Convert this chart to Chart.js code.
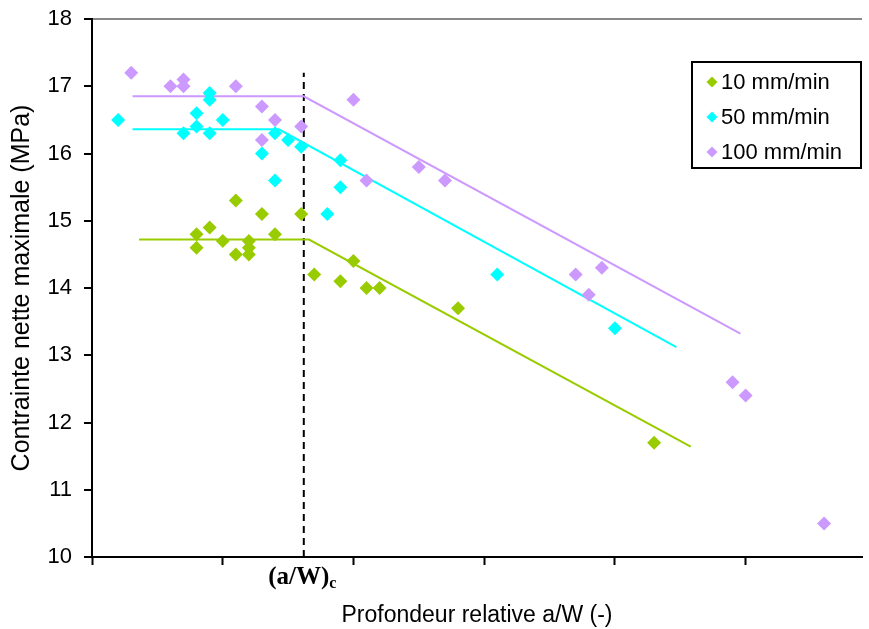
<!DOCTYPE html>
<html>
<head>
<meta charset="utf-8">
<script src="https://cdn.jsdelivr.net/npm/chart.js@4/dist/chart.umd.min.js"></script>
<style>
  html, body { margin: 0; padding: 0; background: #fff; overflow: hidden; }
  #cadre { width: 869px; height: 629px; position: relative; }
  canvas { display: block; }
</style>
</head>
<body>
<div id="cadre"><canvas id="graphe"></canvas></div>
<script>
// series names and colours
const vitesses = ['10 mm/min', '50 mm/min', '100 mm/min'];
const couleurs = ['#99cc00', '#00ffff', '#cc99ff'];

// mesures (a/W, contrainte MPa)
const x10 = [0.08, 0.08, 0.09, 0.10, 0.11, 0.11, 0.12, 0.12, 0.12, 0.13, 0.14, 0.16, 0.17, 0.19, 0.20, 0.21, 0.22, 0.28, 0.43];
const y10 = [14.8, 14.6, 14.9, 14.7, 15.3, 14.5, 14.7, 14.6, 14.5, 15.1, 14.8, 15.1, 14.2, 14.1, 14.4, 14.0, 14.0, 13.7, 11.7];

const x50 = [0.02, 0.07, 0.08, 0.08, 0.09, 0.09, 0.09, 0.10, 0.13, 0.14, 0.14, 0.15, 0.16, 0.18, 0.19, 0.19, 0.31, 0.40];
const y50 = [16.5, 16.3, 16.6, 16.4, 16.9, 16.8, 16.3, 16.5, 16.0, 16.3, 15.6, 16.2, 16.1, 15.1, 15.9, 15.5, 14.2, 13.4];

const x100 = [0.03, 0.06, 0.07, 0.07, 0.11, 0.13, 0.13, 0.14, 0.16, 0.20, 0.21, 0.25, 0.27, 0.37, 0.38, 0.39, 0.49, 0.50, 0.56];
const y100 = [17.2, 17.0, 17.1, 17.0, 17.0, 16.7, 16.2, 16.5, 16.4, 16.8, 15.6, 15.8, 15.6, 14.2, 13.9, 14.3, 12.6, 12.4, 10.5];

// modèles bilinéaires
const fitX10 = [0.036, 0.166, 0.458];
const fitY10 = [14.72, 14.72, 11.64];
const fitX50 = [0.031, 0.143, 0.447];
const fitY50 = [16.36, 16.36, 13.12];
const fitX100 = [0.031, 0.162, 0.496];
const fitY100 = [16.85, 16.85, 13.32];

// profondeur critique
const aWc = 0.162;
const critY = [10, 17.2];

const yTicks = [10, 11, 12, 13, 14, 15, 16, 17, 18];

function pts(xs, ys) {
  return xs.map((x, i) => ({ x: x, y: ys[i] }));
}

const police = "Arial, 'Liberation Sans', sans-serif";

const nuage = [pts(x10, y10), pts(x50, y50), pts(x100, y100)];
const droites = [pts(fitX10, fitY10), pts(fitX50, fitY50), pts(fitX100, fitY100)];

let jeux = [];
nuage.forEach((d, i) => {
  jeux.push({
    label: vitesses[i],
    data: d,
    showLine: false,
    pointStyle: 'rectRot',
    pointRadius: 7,
    pointHoverRadius: 7,
    backgroundColor: couleurs[i],
    borderColor: couleurs[i],
    borderWidth: 0
  });
});
droites.forEach((d, i) => {
  jeux.push({
    label: 'modele ' + vitesses[i],
    data: d,
    showLine: true,
    pointRadius: 0,
    borderColor: couleurs[i],
    borderWidth: 2,
    fill: false
  });
});
jeux.push({
  label: '(a/W)c',
  data: [{ x: aWc, y: critY[0] }, { x: aWc, y: critY[1] }],
  showLine: true,
  pointRadius: 0,
  borderColor: '#000',
  borderWidth: 2,
  borderDash: [7, 5]
});

const legende = {
  id: 'legende',
  afterDraw(chart) {
    const c = chart.ctx;
    const a = chart.chartArea;
    const l = 692, t = a.top + 43, w = 169, h = 106;
    c.save();
    c.fillStyle = '#fff';
    c.fillRect(l, t, w, h);
    c.strokeStyle = '#000';
    c.lineWidth = 2;
    c.strokeRect(l, t, w, h);
    c.font = '22px ' + police;
    c.textBaseline = 'middle';
    vitesses.forEach((v, i) => {
      const y = t + 20 + i * 35;
      const x = l + 20;
      c.fillStyle = couleurs[i];
      c.beginPath();
      c.moveTo(x, y - 5.5);
      c.lineTo(x + 5.5, y);
      c.lineTo(x, y + 5.5);
      c.lineTo(x - 5.5, y);
      c.closePath();
      c.fill();
      c.fillStyle = '#000';
      c.fillText(v, l + 29, y + 1);
    });
    // (a/W)c sous l'axe
    const xs = chart.scales.x;
    const px = xs.getPixelForValue(aWc);
    const base = a.bottom + 27;
    c.textBaseline = 'alphabetic';
    c.font = "bold 25px 'Liberation Serif', 'Times New Roman', serif";
    const t1 = '(a/W)';
    const w1 = c.measureText(t1).width;
    const total = w1 + 10;
    c.fillText(t1, px - total / 2, base);
    c.font = "bold 16px 'Liberation Serif', 'Times New Roman', serif";
    c.fillText('c', px - total / 2 + w1, base + 4);
    c.restore();
  }
};

new Chart(document.getElementById('graphe'), {
  type: 'scatter',
  data: { datasets: jeux },
  options: {
    responsive: true,
    maintainAspectRatio: false,
    animation: false,
    events: [],
    layout: { padding: { top: 19, right: 3, bottom: 0, left: 0 } },
    plugins: {
      legend: { display: false },
      tooltip: { enabled: false }
    },
    scales: {
      x: {
        type: 'linear',
        min: 0,
        max: 0.589,
        afterFit(s) {
          s.height = 72;
          s.paddingLeft = 0;
          s.paddingRight = 0;
        },
        ticks: {
          stepSize: 0.1,
          includeBounds: false,
          callback: () => '',
          font: { size: 2 }
        },
        grid: {
          drawOnChartArea: false,
          drawTicks: true,
          tickLength: 8,
          tickWidth: 2,
          tickColor: '#000'
        },
        border: { color: '#000', width: 2 },
        title: {
          display: true,
          text: 'Profondeur relative a/W (-)',
          color: '#000',
          font: { family: police, size: 23 },
          padding: { top: 0, bottom: 0 }
        }
      },
      y: {
        min: 10,
        max: 18,
        afterFit(s) {
          s.width = 92;
          s.paddingTop = 0;
          s.paddingBottom = 0;
        },
        afterBuildTicks(s) { s.ticks = yTicks.map(v => ({ value: v })); },
        ticks: {
          color: '#000',
          padding: 12,
          font: { family: police, size: 22 }
        },
        grid: {
          drawOnChartArea: true,
          color: ctx => (ctx.tick && ctx.tick.value === 18 ? '#888888' : 'rgba(0,0,0,0)'),
          lineWidth: 2,
          tickLength: 8,
          tickWidth: 2,
          tickColor: '#000'
        },
        border: { color: '#000', width: 2 },
        title: {
          display: true,
          text: 'Contrainte nette maximale (MPa)',
          color: '#000',
          font: { family: police, size: 25 },
          padding: { top: 7, bottom: 0 }
        }
      }
    }
  },
  plugins: [legende]
});
</script>
</body>
</html>
